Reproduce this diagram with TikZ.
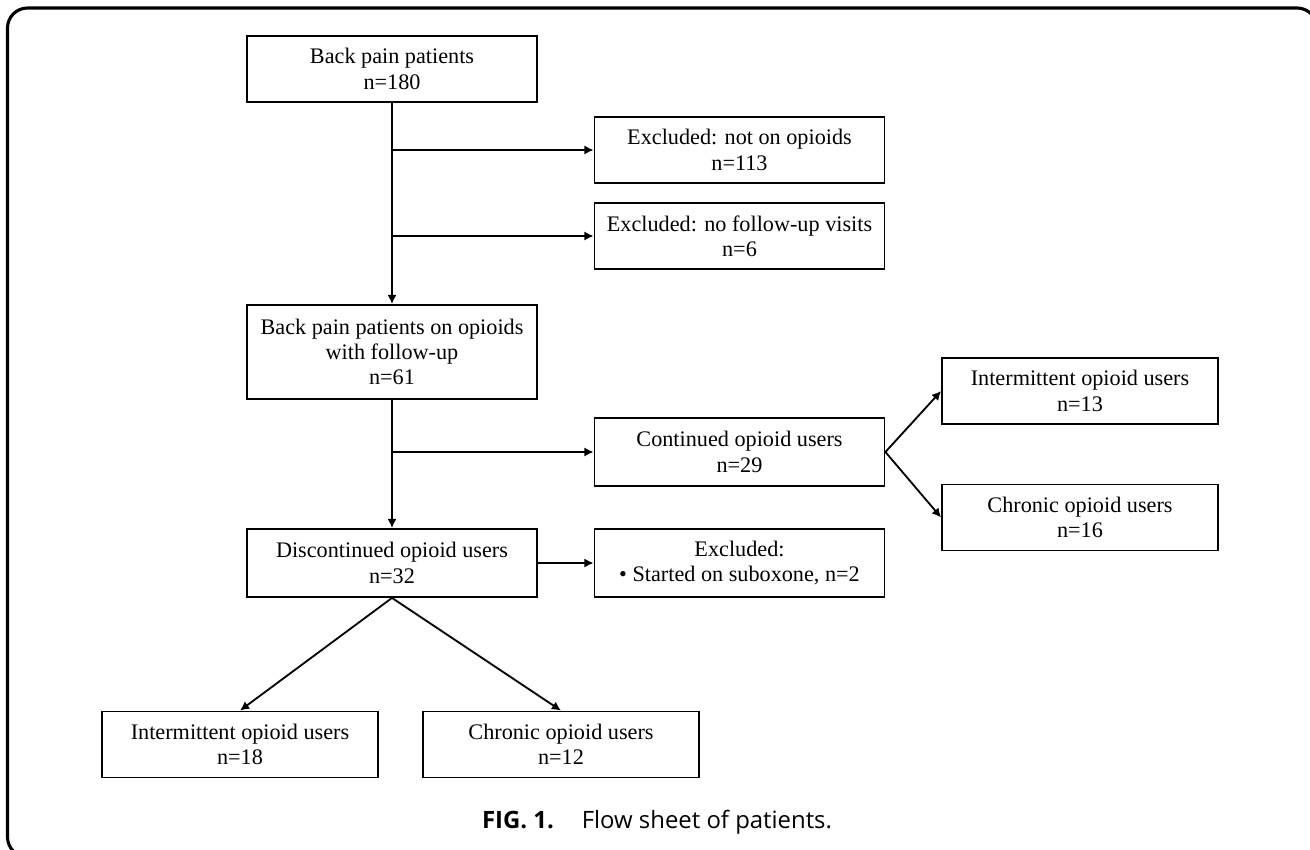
\documentclass[tikz,border=0pt]{standalone}
\usepackage{fontspec}
\setmainfont{Liberation Serif}
\newfontfamily\captionfont{Open Sans}
\usetikzlibrary{positioning,arrows.meta}

\begin{document}
\begin{tikzpicture}[node distance=2cm, >={Latex[length=6.5pt,width=6.5pt]}, thick/.style={line width=1.3pt},
    every node/.style={rectangle, draw, thick, minimum width=7.25cm, minimum height=1.65cm, align=center, font=\fontsize{15.8pt}{18pt}\selectfont},
    small/.style={minimum width=6.9cm}]
    \useasboundingbox (0,0) rectangle (32.75,-21.25);
    % Frame
    \draw[line width=2.2pt, rounded corners=0.5cm] (0.1875,-0.2) rectangle (32.925,-21.425);

    % Nodes
    \node (BP) at (9.8,-1.725) {Back pain patients\\n=180};
    \node (EX1) [right of=BP, xshift=6.6875cm, yshift=-2.025cm] {Excluded: not on opioids\\n=113};
    \node (EX2) [below of=EX1, yshift=-0.15cm] {Excluded: no follow-up visits\\n=6};
    \node (FU) [below of=BP, yshift=-5.075cm, minimum height=2.35cm] {Back pain patients on opioids\\with follow-up\\n=61};
    \node (CO) [right of=FU, xshift=6.6875cm, yshift=-2.5cm, minimum height=1.7cm] {Continued opioid users\\n=29};
    \node (IN1) [small, right of=CO, xshift=6.5125cm, yshift=1.525cm] {Intermittent opioid users\\n=13};
    \node (CH1) [small, right of=CO, xshift=6.5125cm, yshift=-1.6375cm] {Chronic opioid users\\n=16};
    \node (DC) [below of=FU, yshift=-3.275cm, minimum height=1.7cm] {Discontinued opioid users\\n=32};
    \node (EX3) [right of=DC, xshift=6.6875cm, minimum height=1.7cm] {Excluded:\\\textbullet{} Started on suboxone, n=2};
    \node (IN2) [small, below of=DC, xshift=-3.8cm, yshift=-2.5375cm] {Intermittent opioid users\\n=18};
    \node (CH2) [small, below of=DC, xshift=4.225cm, yshift=-2.5375cm] {Chronic opioid users\\n=12};
    \node (CAP) [draw=none, minimum width=0pt, minimum height=0pt, font=\captionfont\fontsize{17pt}{20pt}\selectfont] at (16.425,-20.55) {\textbf{FIG. 1.}\hspace{0.7cm}Flow sheet of patients.};

    % Arrows
    \draw[->, thick] (BP) -- (FU);
    \draw[->, thick] (BP |- EX1) -- (EX1);
    \draw[->, thick] (BP |- EX2) -- (EX2);
    \draw[->, thick] (FU) -- (DC);
    \draw[->, thick] (FU |- CO) -- (CO);
    \draw[->, thick] (CO.east) -- (IN1.west);
    \draw[->, thick] (CO.east) -- (CH1.west);
    \draw[->, thick] (DC) -- (EX3);
    \draw[->, thick] (DC.south) -- (IN2.north);
    \draw[->, thick] (DC.south) -- (CH2.north);
\end{tikzpicture}
\end{document}
